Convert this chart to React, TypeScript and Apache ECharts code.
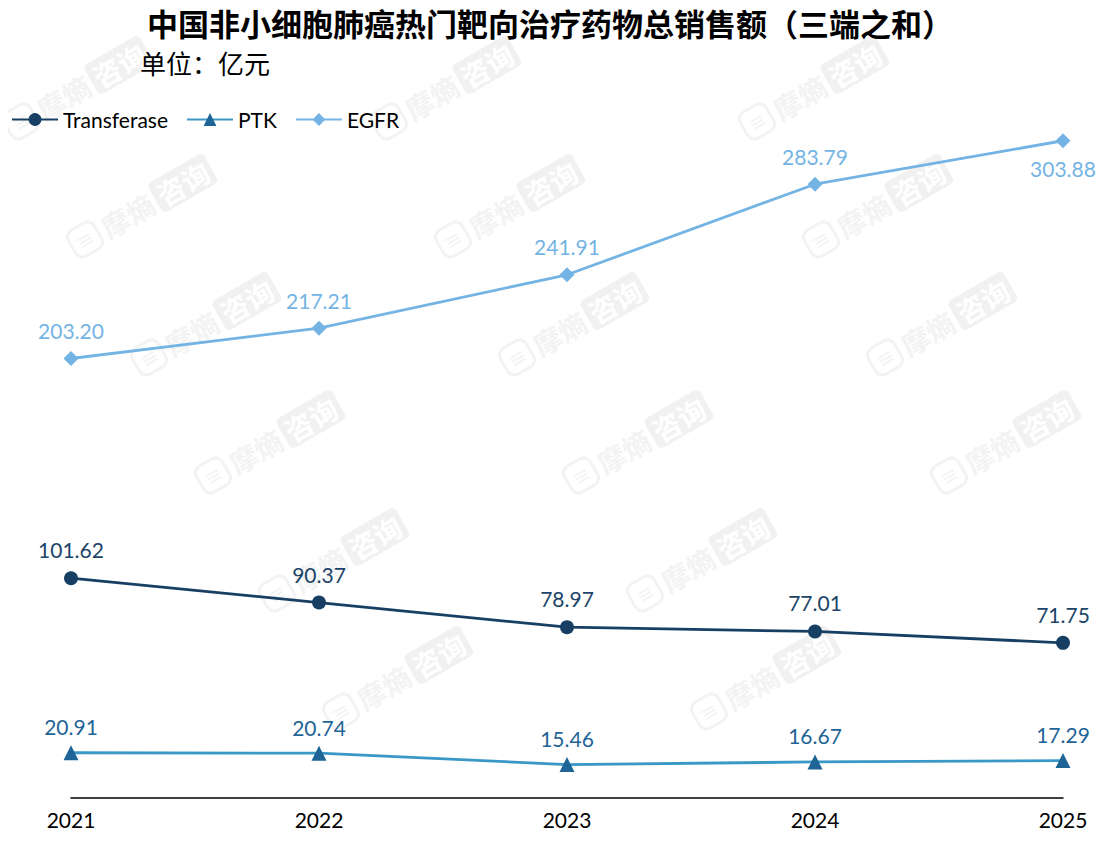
import React, { useEffect, useRef } from 'react';
import * as echarts from 'echarts';

const categories = ['2021', '2022', '2023', '2024', '2025'];
const transferaseValues = [101.62, 90.37, 78.97, 77.01, 71.75];
const ptkValues = [20.91, 20.74, 15.46, 16.67, 17.29];
const egfrValues = [203.2, 217.21, 241.91, 283.79, 303.88];
const seriesNames = ['Transferase', 'PTK', 'EGFR'];

const latin = 'Lato, "Noto Sans", sans-serif';
const cjk = '"Noto Sans CJK SC", "Noto Sans", sans-serif';

// 水印："摩熵咨询"，按斜向网格平铺（只保留完整落在画面内的）
const buildWatermarks = () => {
	const items: any[] = [];
	const c = '#f3f3f3';
	for (let i = -2; i < 4; i++) {
		for (let j = -3; j < 8; j++) {
			const x = 143 + 368 * i + 64 * j;
			const y = 206 + 118 * j;
			if (x < 75 || x > 1030 || y < 50 || y > 770) continue;
			items.push({
				type: 'group',
				x,
				y,
				rotation: Math.PI / 6,
				z: -10,
				silent: true,
				children: [
					{
						type: 'rect',
						shape: { x: -82, y: -15, width: 30, height: 30, r: 8 },
						style: { fill: 'none', stroke: c, lineWidth: 3 }
					},
					{
						type: 'text',
						x: -67,
						y: 0,
						style: { text: '≡', fill: c, font: `bold 18px ${cjk}`, align: 'center', verticalAlign: 'middle' }
					},
					{
						type: 'text',
						x: -46,
						y: 0,
						style: { text: '摩熵', fill: c, font: `bold 28px ${cjk}`, verticalAlign: 'middle' }
					},
					{
						type: 'rect',
						shape: { x: 14, y: -17, width: 64, height: 34, r: 5 },
						style: { fill: '#f1f1f1' }
					},
					{
						type: 'text',
						x: 18,
						y: 0,
						style: { text: '咨询', fill: '#ffffff', font: `bold 28px ${cjk}`, verticalAlign: 'middle' }
					}
				]
			});
		}
	}
	return items;
};

const labelOf = (color: string, distance: number) => ({
	show: true,
	position: 'top' as const,
	distance,
	color,
	fontSize: 21,
	fontFamily: latin,
	formatter: (p: any) => Number(p.value).toFixed(2)
});

const App: React.FC = () => {
	const chartRef = useRef<HTMLDivElement>(null);

	useEffect(() => {
		if (!chartRef.current) return;
		const chart = echarts.init(chartRef.current, undefined, { renderer: 'svg' });

		const option: echarts.EChartsOption = {
			animation: false,
			backgroundColor: '#ffffff',
			title: [
				{
					text: '中国非小细胞肺癌热门靶向治疗药物总销售额（三端之和）',
					left: 545,
					top: 2,
					textAlign: 'center',
					textStyle: { fontSize: 31, fontWeight: 'bold', color: '#000', fontFamily: cjk }
				},
				{
					text: '单位：亿元',
					left: 135,
					top: 44,
					textStyle: { fontSize: 26, fontWeight: 'normal', color: '#000', fontFamily: cjk }
				}
			],
			legend: {
				data: seriesNames,
				left: 6,
				top: 104,
				itemWidth: 46,
				itemHeight: 16,
				itemGap: 18,
				textStyle: { fontSize: 21, color: '#000', fontFamily: latin }
			},
			graphic: buildWatermarks(),
			grid: { left: 71, right: 44, top: 41, bottom: 44 },
			xAxis: {
				type: 'category',
				data: categories,
				boundaryGap: false,
				axisLine: { lineStyle: { color: '#000', width: 1.5 } },
				axisTick: { show: false },
				axisLabel: { fontSize: 21, color: '#000', fontFamily: latin, margin: 11 }
			},
			yAxis: {
				type: 'value',
				min: 0,
				max: 350,
				show: false,
				splitLine: { show: false }
			},
			series: [
				{
					name: 'Transferase',
					type: 'line',
					data: transferaseValues,
					symbol: 'circle',
					symbolSize: 14,
					lineStyle: { color: '#173f63', width: 2.8 },
					itemStyle: { color: '#173f63' },
					label: labelOf('#1b4468', 11)
				},
				{
					name: 'PTK',
					type: 'line',
					data: ptkValues,
					symbol: 'triangle',
					symbolSize: 15,
					lineStyle: { color: '#3a98c6', width: 2.8 },
					itemStyle: { color: '#1f6496' },
					label: labelOf('#1f6496', 8)
				},
				{
					name: 'EGFR',
					type: 'line',
					data: egfrValues.map((v, i) =>
						i === egfrValues.length - 1 ? { value: v, label: { position: 'bottom' as const } } : v
					),
					symbol: 'diamond',
					symbolSize: 15,
					lineStyle: { color: '#74b4e4', width: 2.8 },
					itemStyle: { color: '#74b4e4' },
					label: labelOf('#74b4e4', 10)
				}
			]
		};

		chart.setOption(option);
		return () => {
			chart.dispose();
		};
	}, []);

	return <div ref={chartRef} style={{ width: 1107, height: 842, margin: -8 }} />;
};

export default App;
